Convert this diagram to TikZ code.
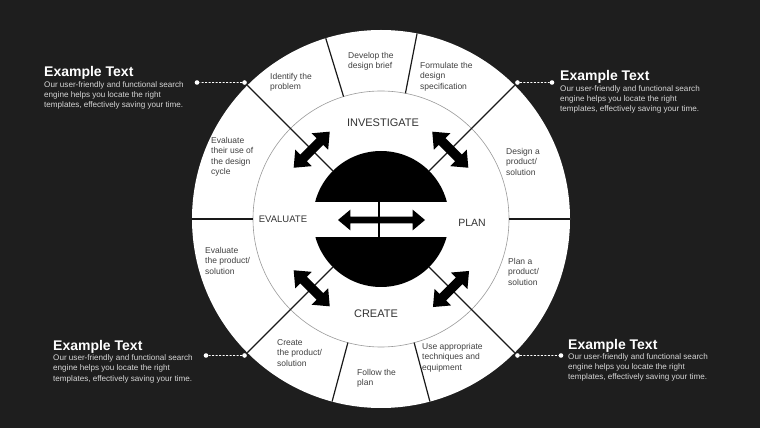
\documentclass[tikz,border=0pt]{standalone}
\usepackage{fontspec}
\setmainfont{Liberation Sans}
\usetikzlibrary{calc,positioning,shapes.arrows}
\definecolor{bgdark}{HTML}{1E1E1E}
\definecolor{segtext}{HTML}{404040}
\definecolor{bodytext}{HTML}{D6D6D6}
\definecolor{ringline}{HTML}{9A9A9A}

\tikzset{
  seg/.style={anchor=north west, inner sep=0pt, align=left, text=segtext, font=\fontsize{8.5}{10.5}\selectfont},
  phaselabel/.style={inner sep=0pt, text=black!80, font=\fontsize{11}{13}\selectfont},
  divider/.style={line width=1.2pt, black!90},
  twoway/.style={double arrow, fill=black, draw=none, inner sep=4.5pt, minimum height=51pt, minimum width=23pt, double arrow head extend=7pt, double arrow tip angle=80},
  dotnode/.style={circle, fill=white, inner sep=0pt, minimum size=4.6pt},
  leader/.style={white, dash pattern=on 2pt off 1.5pt, line width=0.8pt},
  headline/.style={anchor=base west, inner sep=0pt, text=white, font=\fontsize{14}{16}\selectfont\bfseries},
  body/.style={inner sep=0pt, align=left, text=bodytext, font=\fontsize{8.1}{10.3}\selectfont},
}

\begin{document}
\begin{tikzpicture}[x=1pt,y=1pt]
\useasboundingbox (0,0) rectangle (760,428);
\fill[bgdark] (0,0) rectangle (760,428);
\def\R{189}
\def\r{128}
\def\k{68}
\coordinate (c) at (381,209);

% wheel
\fill[white] (c) circle[radius=\R];
\draw[ringline, line width=0.6pt] (c) circle[radius=\r];
\foreach \a in {0,79,107,180,255,285}
  \draw[divider] ($(c)+(\a:\R)$) -- ($(c)+(\a:\r)$);
\foreach \a in {45,135,225,315}
  \draw[divider] ($(c)+(\a:\R)$) -- ($(c)+(\a:\k)$);

% core
\fill[black] (c) circle[radius=\k];
\fill[white] (310,191) rectangle (452,226);
\draw[line width=1.2pt] (379,191) -- (379,226);
\node[twoway, inner sep=3.2pt, minimum height=87pt, minimum width=20pt, double arrow head extend=7pt] (mid) at (381.5,208) {};

\node[twoway, rotate=45] (ainv) at ($(c)+(135:98)$) {};
\node[twoway, rotate=-45] (aplan) at ($(c)+(45:98)$) {};
\node[twoway, rotate=-45] (aeval) at ($(c)+(225:98)$) {};
\node[twoway, rotate=45] (acre) at ($(c)+(315:99)$) {};

% phases
\node[phaselabel] (investigate) at (383,305) {INVESTIGATE};
\node[phaselabel, font=\fontsize{9.5}{11}\selectfont] (evaluate) at (283,209) {EVALUATE};
\node[phaselabel, font=\fontsize{10.5}{12}\selectfont] (plan) at (472,205) {PLAN};
\node[phaselabel] (create) at (376,114) {CREATE};

% steps
\node[seg] (identify) at (270,355) {Identify the\\problem};
\node[seg] (brief) at (348,376) {Develop the\\design brief};
\node[seg] (spec) at (420,366) {Formulate the\\design\\specification};
\node[seg] (design) at (506,280) {Design a\\product/\\solution};
\node[seg] (plana) at (508,170) {Plan a\\product/\\solution};
\node[seg] (useapp) at (422,85) {Use appropriate\\techniques and\\equipment};
\node[seg] (follow) at (357,59) {Follow the\\plan};
\node[seg] (createp) at (277,89) {Create\\the product/\\solution};
\node[seg] (evalp) at (205,181) {Evaluate\\the product/\\solution};
\node[seg] (evaluse) at (211,291) {Evaluate\\their use of\\the design\\cycle};

% callouts
\node[dotnode] (tlin) at ($(c)+(135:193)$) {};
\node[dotnode] (tlout) at (197,345.5) {};
\node[dotnode] (trin) at ($(c)+(45:193)$) {};
\node[dotnode] (trout) at (552,345.5) {};
\node[dotnode] (blin) at ($(c)+(225:193)$) {};
\node[dotnode] (blout) at (206,72.5) {};
\node[dotnode] (brin) at ($(c)+(315:193)$) {};
\node[dotnode] (brout) at (561,72.5) {};
\draw[leader] (tlin) -- (tlout);
\draw[leader] (trin) -- (trout);
\draw[leader] (blin) -- (blout);
\draw[leader] (brin) -- (brout);

\node[headline] (tltitle) at (44,351) {Example Text};
\node[body, below=4pt of tltitle.base west, anchor=north west] (tlbody) {Our user-friendly and functional search\\engine helps you locate the right\\templates, effectively saving your time.};
\node[headline] (trtitle) at (560,347) {Example Text};
\node[body, below=4pt of trtitle.base west, anchor=north west] (trbody) {Our user-friendly and functional search\\engine helps you locate the right\\templates, effectively saving your time.};
\node[headline] (bltitle) at (53,77.5) {Example Text};
\node[body, below=4pt of bltitle.base west, anchor=north west] (blbody) {Our user-friendly and functional search\\engine helps you locate the right\\templates, effectively saving your time.};
\node[headline] (brtitle) at (568,78.7) {Example Text};
\node[body, below=4pt of brtitle.base west, anchor=north west] (brbody) {Our user-friendly and functional search\\engine helps you locate the right\\templates, effectively saving your time.};
\end{tikzpicture}
\end{document}
